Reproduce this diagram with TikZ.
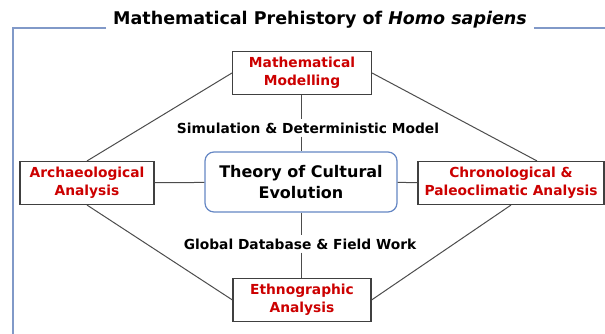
\documentclass[tikz,border=0pt]{standalone}
\usepackage{fontspec}
\setmainfont{DejaVu Sans}
\usepackage{tikz}
\usetikzlibrary{positioning}
\usepackage{xcolor}
\definecolor{topicred}{HTML}{CC0000}
\definecolor{framelue}{HTML}{8199C8}
\definecolor{theoryblue}{HTML}{6587C4}

\begin{document}
\begin{tikzpicture}[
        x=1pt, y=-1pt,
        topic/.style={
            rectangle,
            draw=black!75,
            fill=white,
            line width=1.1pt,
            align=center,
            text=topicred,
            inner sep=0pt,
            font=\fontsize{13.8}{18}\selectfont\bfseries,
            minimum height=43pt
        },
        theorybox/.style={
            rectangle,
            draw=theoryblue,
            fill=white,
            line width=1.2pt,
            rounded corners=9pt,
            align=center,
            inner sep=0pt,
            font=\fontsize{16}{21}\selectfont\bfseries,
            minimum width=192pt,
            minimum height=60pt
        },
        method/.style={
            fill=white,
            inner sep=3pt,
            font=\fontsize{13.8}{16}\selectfont\bfseries
        },
        link/.style={
            draw=black!70,
            line width=1pt
        },
        frameline/.style={
            draw=framelue,
            line width=1.1pt
        }
    ]
        \useasboundingbox (0,0) rectangle (605,334);

        % outer frame and title
        \node (title) at (320,20) [font=\fontsize{17.5}{20}\selectfont\bfseries, inner sep=7pt] {Mathematical Prehistory of \textit{Homo sapiens}};
        \draw [frameline] (title.west |- 0,28) -- (13,28) -- (13,336);
        \draw [frameline] (title.east |- 0,28) -- (607,28);

        \node (theory) [theorybox] at (301,182) {Theory of Cultural \\ Evolution};
        \node (math) [topic, minimum width=139pt] at (302,73) {Mathematical \\ Modelling};
        \node (arch) [topic, minimum width=134pt] at (87,183) {Archaeological \\ Analysis};
        \node (chrono) [topic, minimum width=186pt] at (511,183) {Chronological \& \\ Paleoclimatic Analysis};
        \node (ethno) [topic, minimum width=138pt] at (302,300) {Ethnographic \\ Analysis};

        \node (sim) [method] at (308,128) {Simulation \& Deterministic Model};
        \node (field) [method] at (300,244) {Global Database \& Field Work};

        \draw [link] (math.south -| theory) -- (sim.north -| theory);
        \draw [link] (sim.south -| theory) -- (theory.north);
        \draw [link] (theory.south) -- (field.north -| theory);
        \draw [link] (field.south -| theory) -- (ethno.north -| theory);
        \draw [link] (arch) -- (theory);
        \draw [link] (theory) -- (chrono);
        \draw [link] (math.west) -- (arch.north);
        \draw [link] (math.east) -- ([xshift=26pt]chrono.north);
        \draw [link] (arch.south) -- (ethno.west);
        \draw [link] (chrono.south) -- (ethno.east);
    \end{tikzpicture}
\end{document}
